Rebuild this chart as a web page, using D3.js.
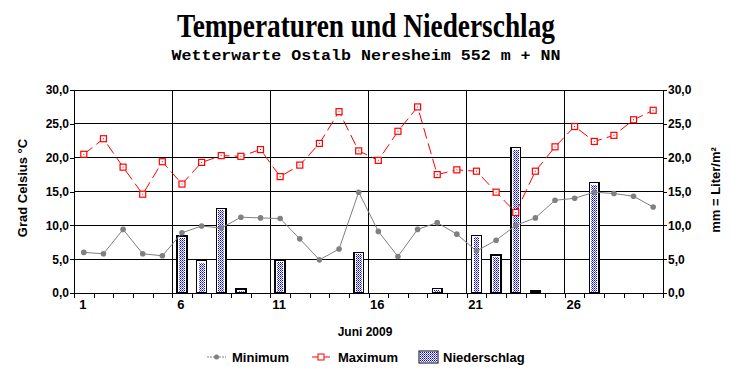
<!DOCTYPE html>
<html lang="de">
<head>
<meta charset="utf-8">
<title>Temperaturen und Niederschlag</title>
<script src="https://d3js.org/d3.v7.min.js"></script>
<style>
  body { margin: 0; background: #fff; }
  svg { display: block; }
  .axis text { font-family: "Liberation Sans", Arial, sans-serif; font-size: 12px; font-weight: bold; fill: #000; }
  .axis path, .axis line { stroke: #000; shape-rendering: crispEdges; }
  .lbl { font-family: "Liberation Sans", Arial, sans-serif; font-size: 12px; font-weight: bold; }
</style>
</head>
<body>
<svg id="chart" width="732" height="380"></svg>
<script>
// Juni 2009, Tageswerte
const days = d3.range(1, 31);
const minimum = [6.0, 5.8, 9.4, 5.8, 5.5, 8.9, 9.9, 9.6, 11.2, 11.1,
                 11.0, 8.0, 4.9, 6.5, 14.9, 9.1, 5.4, 9.4, 10.4, 8.7,
                 6.2, 7.8, 10.0, 11.1, 13.7, 14.0, 14.9, 14.7, 14.3, 12.7];
const maximum = [20.5, 22.8, 18.6, 14.6, 19.4, 16.1, 19.3, 20.3, 20.2, 21.2,
                 17.2, 18.9, 22.1, 26.8, 21.0, 19.6, 23.9, 27.5, 17.5, 18.2,
                 18.0, 14.9, 11.9, 18.0, 21.6, 24.6, 22.4, 23.3, 25.6, 27.0];
const niederschlag = [0, 0, 0, 0, 0, 8.4, 4.8, 12.5, 0.6, 0,
                      4.9, 0, 0, 0, 6.0, 0, 0, 0, 0.7, 0,
                      8.5, 5.6, 21.5, 0.3, 0, 0, 16.3, 0, 0, 0];
const xLabels = [1, 6, 11, 16, 21, 26];
const yTicks = [0, 5, 10, 15, 20, 25, 30];

const svg = d3.select("#chart");
const pLeft = 74, pRight = 663, pTop = 90, pBottom = 293;

const x = d3.scaleBand().domain(days).range([pLeft, pRight]).padding(0);
const xEdge = d3.scaleLinear().domain([0.5, 30.5]).range([pLeft, pRight]);
const yT = d3.scaleLinear().domain([0, 30]).range([pBottom, pTop]);
const yN = d3.scaleLinear().domain([0, 30]).range([pBottom, pTop]);
const fmt = d => d.toFixed(1).replace(".", ",");

// pattern for rain bars
const defs = svg.append("defs");
const pat = defs.append("pattern").attr("id", "dots")
  .attr("width", 2).attr("height", 2).attr("patternUnits", "userSpaceOnUse");
pat.append("rect").attr("width", 2).attr("height", 2).attr("fill", "#fff");
pat.append("rect").attr("width", 1).attr("height", 1).attr("fill", "#0000ff");
pat.append("rect").attr("x", 1).attr("y", 1).attr("width", 1).attr("height", 1).attr("fill", "#5a5aff");

// titles
svg.append("text").attr("x", 366).attr("y", 37)
  .attr("text-anchor", "middle")
  .attr("textLength", 378).attr("lengthAdjust", "spacingAndGlyphs")
  .style("font-family", "'Liberation Serif', 'Times New Roman', serif")
  .style("font-size", "33px").style("font-weight", "bold")
  .text("Temperaturen und Niederschlag");
svg.append("text").attr("x", 366).attr("y", 60)
  .attr("text-anchor", "middle")
  .attr("textLength", 389).attr("lengthAdjust", "spacingAndGlyphs")
  .style("font-family", "'Liberation Mono', 'Courier New', monospace")
  .style("font-size", "15px").style("font-weight", "bold")
  .text("Wetterwarte Ostalb Neresheim 552 m + NN");

// grid
const grid = svg.append("g").attr("shape-rendering", "crispEdges");
grid.selectAll("line.h").data(yTicks.filter(d => d > 0)).enter().append("line")
  .attr("x1", pLeft).attr("x2", pRight)
  .attr("y1", d => yT(d)).attr("y2", d => yT(d))
  .attr("stroke", "#000");
grid.selectAll("line.v").data(xLabels.filter(d => d > 1)).enter().append("line")
  .attr("x1", d => xEdge(d - 0.5)).attr("x2", d => xEdge(d - 0.5))
  .attr("y1", pTop).attr("y2", pBottom)
  .attr("stroke", "#000");

// bars: black frame, white edge, dotted blue inside
const rain = days.filter((d, i) => niederschlag[i] > 0);
const bw = x.bandwidth() * 0.5;
const bars = svg.append("g").attr("shape-rendering", "crispEdges");
bars.selectAll("rect.frame").data(rain).enter().append("rect")
  .attr("x", d => x(d) + x.bandwidth() * 0.25)
  .attr("width", bw)
  .attr("y", d => yN(niederschlag[d - 1]))
  .attr("height", d => pBottom - yN(niederschlag[d - 1]))
  .attr("fill", "#fff").attr("stroke", "#000").attr("stroke-width", 1.5);
bars.selectAll("rect.fill").data(rain).enter().append("rect")
  .attr("x", d => x(d) + x.bandwidth() * 0.25 + 2)
  .attr("width", bw - 4)
  .attr("y", d => yN(niederschlag[d - 1]) + 2)
  .attr("height", d => Math.max(0, pBottom - yN(niederschlag[d - 1]) - 3))
  .attr("fill", "url(#dots)");

// axes
svg.append("g").attr("class", "axis").attr("transform", `translate(${pLeft},0)`)
  .call(d3.axisLeft(yT).tickValues(yTicks).tickFormat(fmt).tickSize(4).tickSizeOuter(0).tickPadding(1));
svg.append("g").attr("class", "axis").attr("transform", `translate(${pRight},0)`)
  .call(d3.axisRight(yN).tickValues(yTicks).tickFormat(fmt).tickSize(4).tickSizeOuter(0).tickPadding(1));
svg.append("g").attr("class", "axis").attr("transform", `translate(0,${pBottom})`)
  .call(d3.axisBottom(xEdge).tickValues(d3.range(0.5, 31, 1)).tickFormat("").tickSize(5).tickSizeOuter(0));
svg.append("g").attr("class", "axis").selectAll("text").data(xLabels).enter().append("text")
  .attr("x", d => x(d) + x.bandwidth() / 2 - 1).attr("y", 309)
  .attr("text-anchor", "middle").style("font-size", "13px")
  .text(d => d);

// minimum line
const ptX = d => x(d) + x.bandwidth() / 2;
svg.append("path").datum(days)
  .attr("d", d3.line().x(ptX).y(d => yT(minimum[d - 1])))
  .attr("fill", "none").attr("stroke", "#808080").attr("stroke-width", 1);
svg.append("g").selectAll("circle").data(days).enter().append("circle")
  .attr("cx", ptX).attr("cy", d => yT(minimum[d - 1])).attr("r", 2.8)
  .attr("fill", "#808080");

// maximum line
svg.append("path").datum(days)
  .attr("d", d3.line().x(ptX).y(d => yT(maximum[d - 1])))
  .attr("fill", "none").attr("stroke", "#ff0000").attr("stroke-width", 1)
  .attr("stroke-dasharray", "11,5");
const mx = svg.append("g").selectAll("g").data(days).enter().append("g")
  .attr("transform", d => `translate(${ptX(d)},${yT(maximum[d - 1])})`);
mx.append("rect").attr("x", -3).attr("y", -3).attr("width", 6).attr("height", 6)
  .attr("fill", "#fff").attr("stroke", "#ff0000").attr("stroke-width", 1.2);
mx.append("rect").attr("x", -0.5).attr("y", -0.5).attr("width", 1).attr("height", 1)
  .attr("fill", "#ff0000");

// axis titles
svg.append("text").attr("class", "lbl").attr("x", 365).attr("y", 336)
  .attr("text-anchor", "middle").text("Juni 2009");
svg.append("text").attr("class", "lbl").style("font-size", "13px")
  .attr("transform", "translate(27,188) rotate(-90)")
  .attr("text-anchor", "middle").text("Grad Celsius °C");
svg.append("text").attr("class", "lbl").style("font-size", "13px")
  .attr("transform", "translate(720,190) rotate(-90)")
  .attr("text-anchor", "middle").text("mm = Liter/m²");

// legend
const ly = 357;
const leg = svg.append("g");
leg.append("line").attr("x1", 207).attr("x2", 226).attr("y1", ly).attr("y2", ly)
  .attr("stroke", "#808080").attr("stroke-dasharray", "2,1");
leg.append("circle").attr("cx", 216.5).attr("cy", ly).attr("r", 2.5).attr("fill", "#808080");
leg.append("text").attr("class", "lbl").attr("x", 232).attr("y", ly + 5).style("font-size", "13px").text("Minimum");
leg.append("line").attr("x1", 312).attr("x2", 330).attr("y1", ly).attr("y2", ly).attr("stroke", "#ff0000");
leg.append("rect").attr("x", 318).attr("y", ly - 3).attr("width", 6).attr("height", 6)
  .attr("fill", "#fff").attr("stroke", "#ff0000");
leg.append("text").attr("class", "lbl").attr("x", 338).attr("y", ly + 5).style("font-size", "13px").text("Maximum");
leg.append("rect").attr("x", 419).attr("y", 351).attr("width", 19).attr("height", 12)
  .attr("fill", "#fff").attr("stroke", "#000").attr("stroke-width", 1);
leg.append("rect").attr("x", 420).attr("y", 352).attr("width", 17).attr("height", 10)
  .attr("fill", "url(#dots)");
leg.append("text").attr("class", "lbl").attr("x", 443).attr("y", ly + 5).style("font-size", "13px").text("Niederschlag");
</script>
</body>
</html>
